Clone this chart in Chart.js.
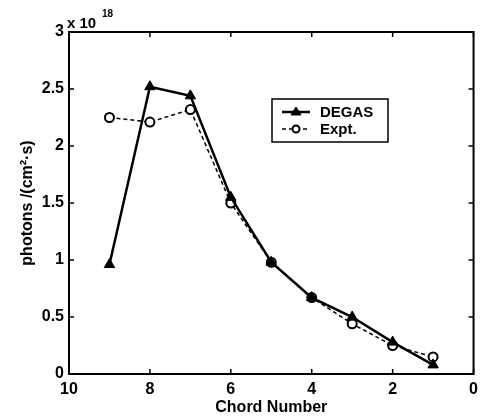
<!DOCTYPE html>
<html>
<head>
<meta charset="utf-8">
<script src="https://cdn.jsdelivr.net/npm/chart.js@4.4.1/dist/chart.umd.min.js"></script>
<style>
  html, body { margin: 0; padding: 0; background: #fff; }
  #wrap { width: 484px; height: 417px; }
</style>
</head>
<body>
<div id="wrap"><canvas id="myChart" width="484" height="417"></canvas></div>
<script>
// data (y in units of 1e18)
var chords = [9, 8, 7, 6, 5, 4, 3, 2, 1];
var degas = [0.96, 2.52, 2.44, 1.55, 0.98, 0.67, 0.50, 0.28, 0.08];
var expt = [2.25, 2.21, 2.32, 1.50, 0.98, 0.67, 0.44, 0.25, 0.15];
var seriesNames = ["DEGAS", "Expt."];
var xTicks = [10, 8, 6, 4, 2, 0];
var yTicks = [0, 0.5, 1, 1.5, 2, 2.5, 3];

var FONT = "'Liberation Sans', Arial, sans-serif";

function toPoints(xs, ys) {
  var pts = [];
  for (var i = 0; i < xs.length; i++) pts.push({ x: xs[i], y: ys[i] });
  return pts;
}

// box, inward ticks, exponent label and legend (matlab look)
var framePlugin = {
  id: "frame",
  afterDraw: function (chart) {
    var ctx = chart.ctx;
    var a = chart.chartArea;
    var xs = chart.scales.x, ys = chart.scales.y;
    ctx.save();
    ctx.strokeStyle = "#000";
    ctx.lineWidth = 2;
    ctx.strokeRect(a.left, a.top, a.right - a.left, a.bottom - a.top);
    ctx.lineWidth = 1.5;
    ctx.beginPath();
    xTicks.forEach(function (v) {
      var px = xs.getPixelForValue(v);
      ctx.moveTo(px, a.bottom); ctx.lineTo(px, a.bottom - 5);
      ctx.moveTo(px, a.top); ctx.lineTo(px, a.top + 5);
    });
    yTicks.forEach(function (v) {
      var py = ys.getPixelForValue(v);
      ctx.moveTo(a.left, py); ctx.lineTo(a.left + 5, py);
      ctx.moveTo(a.right, py); ctx.lineTo(a.right - 5, py);
    });
    ctx.stroke();

    // x 10^18
    ctx.fillStyle = "#000";
    ctx.textBaseline = "alphabetic";
    ctx.textAlign = "left";
    ctx.font = "bold 15px " + FONT;
    ctx.fillText("x 10", a.left - 2, a.top - 4);
    ctx.font = "bold 10px " + FONT;
    ctx.fillText("18", a.left + 33, a.top - 15);

    // legend
    var lx = 272, ly = 99, lw = 116, lh = 43;
    ctx.fillStyle = "#fff";
    ctx.fillRect(lx, ly, lw, lh);
    ctx.lineWidth = 1.5;
    ctx.strokeStyle = "#000";
    ctx.strokeRect(lx, ly, lw, lh);
    var rows = [ly + 13, ly + 30];
    chart.data.datasets.forEach(function (ds, i) {
      var y = rows[i];
      ctx.beginPath();
      ctx.lineWidth = ds.borderWidth;
      ctx.setLineDash(ds.borderDash || []);
      ctx.moveTo(lx + 10, y); ctx.lineTo(lx + 38, y);
      ctx.stroke();
      ctx.setLineDash([]);
      ctx.lineWidth = ds.pointBorderWidth;
      ctx.fillStyle = ds.pointBackgroundColor;
      ctx.beginPath();
      if (ds.pointStyle === "triangle") {
        ctx.moveTo(lx + 24, y - 5); ctx.lineTo(lx + 29, y + 3); ctx.lineTo(lx + 19, y + 3);
        ctx.closePath();
      } else {
        ctx.arc(lx + 24, y, 3.5, 0, Math.PI * 2);
      }
      ctx.fill(); ctx.stroke();
      ctx.fillStyle = "#000";
      ctx.font = "bold 15px " + FONT;
      ctx.textBaseline = "middle";
      ctx.fillText(ds.label, lx + 48, y + 1);
    });
    ctx.restore();
  }
};

function plainLabel(v) { return String(v); }

function renderChart() {
  const data = {
    datasets: [
      {
        label: seriesNames[0],
        data: toPoints(chords, degas),
        borderColor: "#000",
        borderWidth: 2.5,
        pointStyle: "triangle",
        pointRadius: 6,
        pointBackgroundColor: "#000",
        pointBorderColor: "#000",
        pointBorderWidth: 1,
        tension: 0
      },
      {
        label: seriesNames[1],
        data: toPoints(chords, expt),
        borderColor: "#000",
        borderWidth: 1.5,
        borderDash: [4, 3],
        pointStyle: "circle",
        pointRadius: 4.5,
        pointBackgroundColor: "#fff",
        pointBorderColor: "#000",
        pointBorderWidth: 2,
        tension: 0
      }
    ]
  };

  const config = {
    type: "line",
    data: data,
    plugins: [framePlugin],
    options: {
      responsive: false,
      animation: false,
      layout: { padding: { left: 0, right: 5, top: 32, bottom: 0 } },
      plugins: { legend: { display: false }, tooltip: { enabled: false } },
      scales: {
        x: {
          type: "linear",
          reverse: true,
          min: 0,
          max: 10,
          afterBuildTicks: function (s) { s.ticks = xTicks.map(function (v) { return { value: v }; }); },
          afterFit: function (s) { s.height = 43; },
          grid: { display: false, drawTicks: false },
          border: { display: false },
          ticks: { color: "#000", padding: 6, maxRotation: 0, callback: plainLabel, font: { family: FONT, size: 16, weight: "bold" } },
          title: { display: true, text: "Chord Number", color: "#000", padding: { top: 0, bottom: 0 }, font: { family: FONT, size: 16, weight: "bold" } }
        },
        y: {
          min: 0,
          max: 3,
          afterBuildTicks: function (s) { s.ticks = yTicks.map(function (v) { return { value: v }; }); },
          afterFit: function (s) { s.width = 69; },
          grid: { display: false, drawTicks: false },
          border: { display: false },
          ticks: { color: "#000", padding: 5, callback: plainLabel, font: { family: FONT, size: 16, weight: "bold" } },
          title: { display: true, text: "photons /(cm²·s)", color: "#000", padding: { top: 18, bottom: 0 }, font: { family: FONT, size: 16, weight: "bold" } }
        }
      }
    }
  };

  const myChart = new Chart(document.getElementById("myChart"), config);
}
renderChart();
</script>
</body>
</html>
